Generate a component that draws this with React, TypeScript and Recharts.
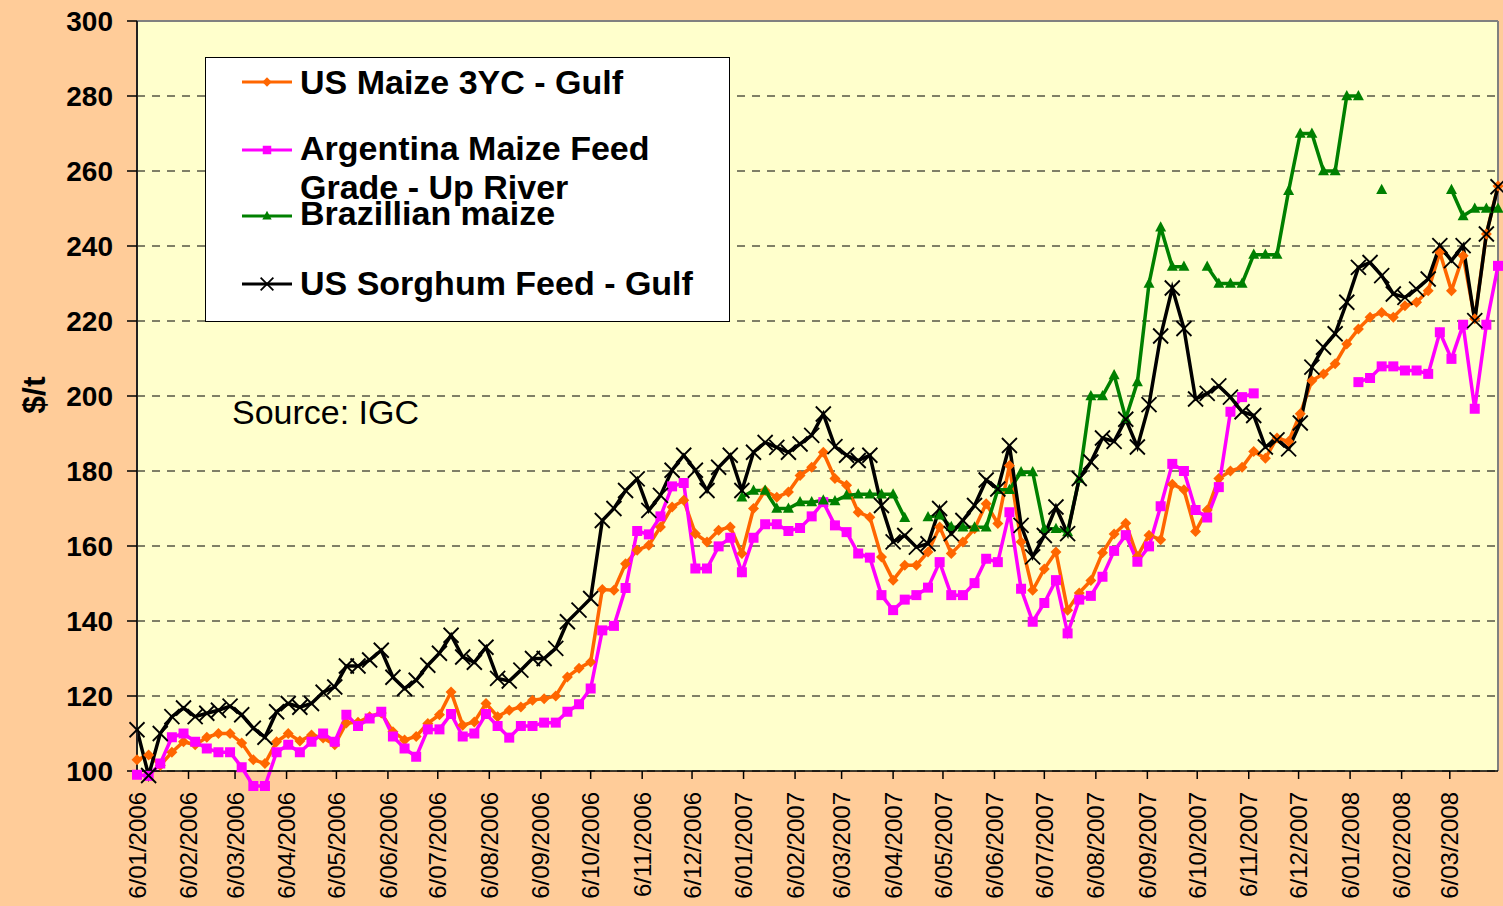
import {
  CartesianGrid,
  Legend,
  Line,
  LineChart,
  ReferenceLine,
  XAxis,
  YAxis,
} from "recharts"

const FONT = '"Liberation Sans", Arial, Helvetica, sans-serif'

// weekly quotes, first week = 6/01/2006
const FIRST_DATE = "6/01/2006"

const TICK_LABELS = [
  "6/01/2006", "6/02/2006", "6/03/2006", "6/04/2006", "6/05/2006", "6/06/2006",
  "6/07/2006", "6/08/2006", "6/09/2006", "6/10/2006", "6/11/2006", "6/12/2006",
  "6/01/2007", "6/02/2007", "6/03/2007", "6/04/2007", "6/05/2007", "6/06/2007",
  "6/07/2007", "6/08/2007", "6/09/2007", "6/10/2007", "6/11/2007", "6/12/2007",
  "6/01/2008", "6/02/2008", "6/03/2008",
]

const Y_TICKS = [100, 120, 140, 160, 180, 200, 220, 240, 260, 280, 300]

const usMaize = [
  103, 104.3, 101.5, 105, 107.8, 107, 109, 110, 110, 107.5,
  103, 102, 107.8, 110, 108, 109.6, 108.8, 107, 112.8, 113,
  114.5, 115.5, 110.5, 108.3, 109.2, 112.7, 115, 121.1, 112.2, 113.1,
  118, 114.5, 116.2, 117.1, 118.9, 119.3, 120, 125.1, 127.4, 129.1,
  148.4, 148.2, 155.3, 158.9, 160.2, 165.1, 170.4, 172.2, 163.3, 161.1,
  164.2, 165.1, 158, 170, 174.8, 173, 174.4, 178.8, 181, 185,
  178, 176.2, 169, 167.7, 157.1, 150.9, 154.9, 154.9, 158.4, 165.1,
  158, 161.1, 164.6, 171.3, 166, 181.5, 161.1, 148.2, 153.9, 158.4,
  142.9, 147.5, 150.8, 158.2, 163.2, 166.1, 157.2, 162.9, 161.7, 176.5,
  175, 163.9, 169.6, 178, 180, 181, 185.2, 183.4, 188.8, 187.9,
  195.3, 204.1, 205.9, 208.6, 213.9, 217.9, 221, 222.3, 221, 224.1,
  225, 228.1, 238.3, 228.1, 237.4, 220.6, 243.2, 256,
]

const argentina = [
  99, 98.7, 102, 109, 110, 107.8, 106, 105, 105, 101,
  96, 96, 105, 107, 105, 107.8, 110, 107.8, 115, 112,
  114, 115.8, 109.2, 106, 103.8, 111.1, 111.1, 115.2, 109.2, 110,
  115.2, 112, 108.9, 112, 112, 112.9, 112.9, 115.8, 117.8, 122,
  137.5, 138.7, 148.8, 164, 163.1, 167.9, 175.9, 176.8, 154, 154,
  159.9, 162.2, 153, 162.2, 165.8, 165.8, 164, 164.8, 167.9, 171.7,
  165.5, 163.7, 158, 156.9, 146.9, 142.9, 145.7, 146.9, 148.9, 155.7,
  146.9, 146.9, 150.1, 156.6, 155.7, 169, 148.6, 139.8, 144.8, 150.9,
  136.7, 145.7, 146.7, 151.8, 158.7, 162.9, 155.8, 159.9, 170.6, 181.9,
  180, 169.6, 167.6, 175.7, 195.8, 199.7, 200.7, null, null, null,
  null, null, null, null, null, 203.7, 204.8, 207.9, 207.9, 206.8,
  206.8, 205.9, 217, 209.9, 219, 196.6, 219, 234.7,
]

// Brazilian quotes only start in week 52
const BRAZIL_FIRST_WEEK = 52
const brazil = [
  173, 174.8, 174.8, 170, 170, 171.7, 171.7, 172.2, 172, 173.5,
  173.8, 173.8, 173.8, 173.8, 167.5, null, 167.7, 168.2, 165.1, 165,
  165, 165, 175, 175, 179.7, 179.7, 164.6, 164.6, 163.7, 178,
  200, 200, 205.6, 194, 203.7, 230, 245, 234.5, 234.5, null,
  234.5, 230, 230, 230, 237.7, 237.7, 237.7, 254.7, 270, 270,
  260, 260, 280, 280, null, 255, null, null, null, null,
  null, 255, 248, 250, 250, 250,
]

const sorghum = [
  111, 98.8, 110, 114.5, 116.8, 114.5, 115.4, 116.2, 117.3, 115,
  111.4, 109, 115.8, 118, 117, 118, 121, 122.4, 128, 128,
  129.6, 132.2, 125, 122, 124.2, 128.2, 131.4, 136.2, 130.4, 129,
  133, 124.7, 124, 126.9, 130, 130, 132.7, 139.8, 142.9, 146,
  166.8, 170, 174.8, 177.9, 169.5, 173.5, 180.2, 184.2, 180.2, 174.8,
  181, 184.2, 174.8, 185, 187.6, 186.3, 185, 187.2, 189.5, 195.2,
  186.5, 184.2, 182.8, 184.2, 170.8, 161.1, 162.8, 159.7, 160.6, 170,
  163.3, 166.8, 170.8, 177.6, 175.2, 186.8, 165.5, 157.1, 162.8, 170.4,
  163.3, 178, 182.4, 188.8, 187.9, 193.8, 186.4, 197.7, 216, 228.8,
  218, 199.2, 200.7, 202.7, 199.7, 195.8, 194.8, 186.4, 188.3, 185.9,
  192.8, 207.7, 213, 216.6, 225, 234.3, 235.6, 232.1, 227.2, 226.3,
  228.5, 231.2, 240.1, 236.1, 240.1, 220.1, 243.2, 255.8,
]

const SERIES = [
  { key: "maize", name: "US Maize 3YC - Gulf", color: "#FF6600", shape: "diamond" },
  { key: "arg", name: "Argentina Maize Feed Grade - Up River", color: "#FF00FF", shape: "square" },
  { key: "braz", name: "Brazillian maize", color: "#008000", shape: "triangle" },
  { key: "sorghum", name: "US Sorghum Feed - Gulf", color: "#000000", shape: "cross" },
]

const dayOf = (label: string) => {
  const [d, m, y] = label.split("/").map(Number)
  const [d0, m0, y0] = FIRST_DATE.split("/").map(Number)
  return Math.round((Date.UTC(y, m - 1, d) - Date.UTC(y0, m0 - 1, d0)) / 86400000)
}

const TICK_DAYS = TICK_LABELS.map(dayOf)
const LABEL_BY_DAY: Record<number, string> = {}
TICK_LABELS.forEach((l, i) => (LABEL_BY_DAY[TICK_DAYS[i]] = l))

const data = usMaize.map((v, i) => {
  const b = i - BRAZIL_FIRST_WEEK
  return {
    day: i * 7,
    maize: v,
    arg: argentina[i],
    braz: b >= 0 ? brazil[b] : null,
    sorghum: sorghum[i],
  }
})
const LAST_DAY = (usMaize.length - 1) * 7

function Marker({ shape, color, cx, cy, s = 1 }: any) {
  if (shape === "diamond") {
    const r = 5.5 * s
    return <polygon points={`${cx},${cy - r} ${cx + r},${cy} ${cx},${cy + r} ${cx - r},${cy}`} fill={color} />
  }
  if (shape === "square") {
    const r = 5 * s
    return <rect x={cx - r} y={cy - r} width={2 * r} height={2 * r} fill={color} />
  }
  if (shape === "triangle") {
    const r = 5.5 * s
    return <polygon points={`${cx},${cy - r * 1.1} ${cx + r},${cy + r * 0.75} ${cx - r},${cy + r * 0.75}`} fill={color} />
  }
  const r = 7.5 * s
  return (
    <g stroke={color} strokeWidth={1.8}>
      <line x1={cx - r} y1={cy - r} x2={cx + r} y2={cy + r} />
      <line x1={cx - r} y1={cy + r} x2={cx + r} y2={cy - r} />
    </g>
  )
}

const makeDot = (shape: string, color: string) => (p: any) => {
  if (p.value == null || p.cy == null || p.cx == null) return <g key={`${shape}-${p.index}`} />
  return (
    <g key={`${shape}-${p.index}`}>
      <Marker shape={shape} color={color} cx={p.cx} cy={p.cy} />
    </g>
  )
}

function DateTick({ x, payload }: any) {
  const y = 792
  return (
    <text
      x={x}
      y={y}
      transform={`rotate(-90 ${x} ${y})`}
      textAnchor="end"
      dy="0.36em"
      fontSize={24}
      fontFamily={FONT}
      fill="#000"
    >
      {LABEL_BY_DAY[payload.value]}
    </text>
  )
}

// rows of the legend box: marker y and text baselines (box-relative)
const LEGEND_ROWS = [
  { marker: 24, lines: ["US Maize 3YC - Gulf"], base: [36] },
  { marker: 92, lines: ["Argentina Maize Feed", "Grade - Up River"], base: [102, 141] },
  { marker: 158, lines: ["Brazillian maize"], base: [167] },
  { marker: 226, lines: ["US Sorghum Feed - Gulf"], base: [237] },
]

function LegendBox() {
  return (
    <div
      style={{
        width: 525,
        height: 265,
        background: "#fff",
        border: "1.5px solid #000",
        boxSizing: "border-box",
      }}
    >
      <svg width={522} height={262} style={{ display: "block" }}>
        {LEGEND_ROWS.map((row, i) => {
          const s = SERIES[i]
          return (
            <g key={s.key}>
              <line x1={36} x2={86} y1={row.marker} y2={row.marker} stroke={s.color} strokeWidth={3} />
              <Marker shape={s.shape} color={s.color} cx={61} cy={row.marker} s={0.85} />
              {row.lines.map((t, j) => (
                <text key={t} x={94} y={row.base[j]} fontSize={34} fontWeight={700} fontFamily={FONT} fill="#000">
                  {t}
                </text>
              ))}
            </g>
          )
        })}
      </svg>
    </div>
  )
}

const yTitle = () => (
  <text
    x={33}
    y={395}
    transform="rotate(-90 33 395)"
    textAnchor="middle"
    dy="0.36em"
    fontSize={32}
    fontWeight={700}
    fontFamily={FONT}
    fill="#000"
  >
    $/t
  </text>
)

export default function App() {
  return (
    <div style={{ position: "relative", width: 1503, height: 906, background: "#FFCC99", fontFamily: FONT }}>
      <style>{`
        body { margin: 0; overflow: hidden; }
        .recharts-line, .recharts-line-dots, .recharts-line * { clip-path: none !important; }
      `}</style>
      <LineChart width={1503} height={906} data={data} margin={{ top: 21, right: 5, bottom: 0, left: 0 }}>
        <CartesianGrid
          vertical={false}
          stroke="#000"
          strokeDasharray="8 7"
          fill="#FFFFCC"
          fillOpacity={1}
        />
        <XAxis
          type="number"
          dataKey="day"
          domain={[0, LAST_DAY]}
          ticks={TICK_DAYS}
          interval={0}
          height={135}
          tick={<DateTick />}
          tickSize={8}
          tickLine={{ stroke: "#000", strokeWidth: 1.5 }}
          axisLine={{ stroke: "#000", strokeWidth: 1.5 }}
          allowDataOverflow
        />
        <YAxis
          domain={[100, 300]}
          ticks={Y_TICKS}
          interval={0}
          allowDataOverflow
          width={137}
          tickSize={10}
          tickMargin={14}
          tick={{ fontSize: 28, fontWeight: 700, fill: "#000", fontFamily: FONT }}
          tickLine={{ stroke: "#000", strokeWidth: 1.5 }}
          axisLine={{ stroke: "#222", strokeWidth: 2 }}
          label={{ value: "$/t", content: yTitle }}
        />
        <ReferenceLine y={300} stroke="#808080" strokeWidth={2} />
        <ReferenceLine x={LAST_DAY} stroke="#808080" strokeWidth={2} />
        {SERIES.map((s) => (
          <Line
            key={s.key}
            dataKey={s.key}
            name={s.name}
            type="linear"
            stroke={s.color}
            strokeWidth={3.5}
            dot={makeDot(s.shape, s.color)}
            activeDot={false}
            connectNulls={false}
            isAnimationActive={false}
          />
        ))}
        <Legend
          layout="vertical"
          align="center"
          verticalAlign="middle"
          content={() => <LegendBox />}
          wrapperStyle={{ left: 205, top: 57, width: 525, height: 265 }}
        />
      </LineChart>
      <div
        style={{
          position: "absolute",
          left: 232,
          top: 393,
          fontSize: 34,
          lineHeight: "38px",
          color: "#000",
          whiteSpace: "nowrap",
        }}
      >
        Source: IGC
      </div>
    </div>
  )
}
